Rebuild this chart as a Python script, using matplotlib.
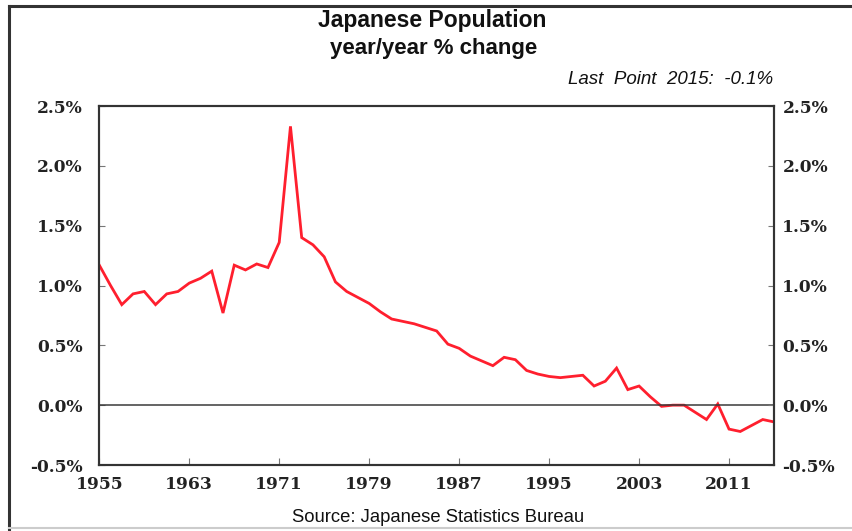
import matplotlib
matplotlib.use("Agg")
import matplotlib.pyplot as plt
from matplotlib.lines import Line2D

# Data (year/year % change)
years = list(range(1955, 2016))
pct_change = [
    1.17, 1.00, 0.84, 0.93, 0.95, 0.84, 0.93, 0.95, 1.02, 1.06,  # 1955-1964
    1.12, 0.77, 1.17, 1.13, 1.18, 1.15, 1.36, 2.33, 1.40, 1.34,  # 1965-1974
    1.24, 1.03, 0.95, 0.90, 0.85, 0.78, 0.72, 0.70, 0.68, 0.65,  # 1975-1984
    0.62, 0.51, 0.475, 0.41, 0.37, 0.33, 0.40, 0.38, 0.29, 0.26,  # 1985-1994
    0.24, 0.23, 0.24, 0.25, 0.16, 0.20, 0.31, 0.13, 0.16, 0.07,  # 1995-2004
    -0.01, 0.00, 0.00, -0.06, -0.12, 0.01, -0.20, -0.22, -0.17, -0.12,  # 2005-2014
    -0.14,  # 2015
]
x_ticks = [1955, 1963, 1971, 1979, 1987, 1995, 2003, 2011]
y_ticks = [-0.5, 0.0, 0.5, 1.0, 1.5, 2.0, 2.5]
y_labels = ["%.1f%%" % v for v in y_ticks]

W, H = 852, 531
fig = plt.figure(figsize=(W / 100, H / 100), dpi=100)
fig.patch.set_facecolor("white")

# axes box in pixels: left 99, right 774, top 106, bottom 465
ax = fig.add_axes([99.3 / W, 1 - 465 / H, (774 - 99.3) / W, (465 - 106) / H])
ax.plot(years, pct_change, color="#ff1f2e", lw=2.0, solid_joinstyle="miter")
ax.axhline(0, color="#3a3a3a", lw=1.1)

ax.set_xlim(1955, 2015)
ax.set_ylim(-0.5, 2.5)
ax.set_xticks(x_ticks)
ax.set_yticks(y_ticks)
ax.set_yticklabels(y_labels)

tick_font = dict(family="DejaVu Serif", weight="bold", size=12.3)
for lab in ax.get_xticklabels() + ax.get_yticklabels():
    lab.set_fontproperties(tick_font)
    lab.set_color("#222222")

ax.tick_params(axis="x", direction="in", length=5, width=0.8, color="#777777", pad=8)
ax.tick_params(axis="y", direction="in", length=4, width=0.8, color="#777777", pad=12)

# right-hand labels
ax2 = ax.twinx()
ax2.set_ylim(-0.5, 2.5)
ax2.set_yticks(y_ticks)
ax2.set_yticklabels(y_labels)
for lab in ax2.get_yticklabels():
    lab.set_fontproperties(tick_font)
    lab.set_color("#222222")
ax2.tick_params(axis="y", direction="in", length=4, width=0.8, color="#777777", pad=6)

for a in (ax, ax2):
    for s in a.spines.values():
        s.set_color("#333333")
        s.set_linewidth(1.5)

# titles and notes
fig.text(432 / W, 1 - 21 / H, "Japanese Population", ha="center", va="center",
         family="Liberation Sans", weight="bold", size=16.5, color="#111111")
fig.text(434 / W, 1 - 48 / H, "year/year % change", ha="center", va="center",
         family="Liberation Sans", weight="bold", size=16, color="#111111")
fig.text(773 / W, 1 - 80 / H, "Last  Point  2015:  -0.1%", ha="right", va="center",
         family="Liberation Sans", style="italic", size=13.5, color="#111111")
fig.text(438 / W, 1 - 517 / H, "Source: Japanese Statistics Bureau", ha="center", va="center",
         family="Liberation Sans", size=13.3, color="#111111")

# outer frame
fig.add_artist(Line2D([9 / W, 9 / W], [0, 1 - 6 / H], color="#333333", lw=2.2,
                      transform=fig.transFigure))
fig.add_artist(Line2D([9 / W, 1], [1 - 6 / H, 1 - 6 / H], color="#333333", lw=2.2,
                      transform=fig.transFigure))
fig.add_artist(Line2D([9 / W, 1], [1 - 528 / H, 1 - 528 / H], color="#cccccc", lw=1.5,
                      transform=fig.transFigure))

fig.savefig("out.png", dpi=100)
